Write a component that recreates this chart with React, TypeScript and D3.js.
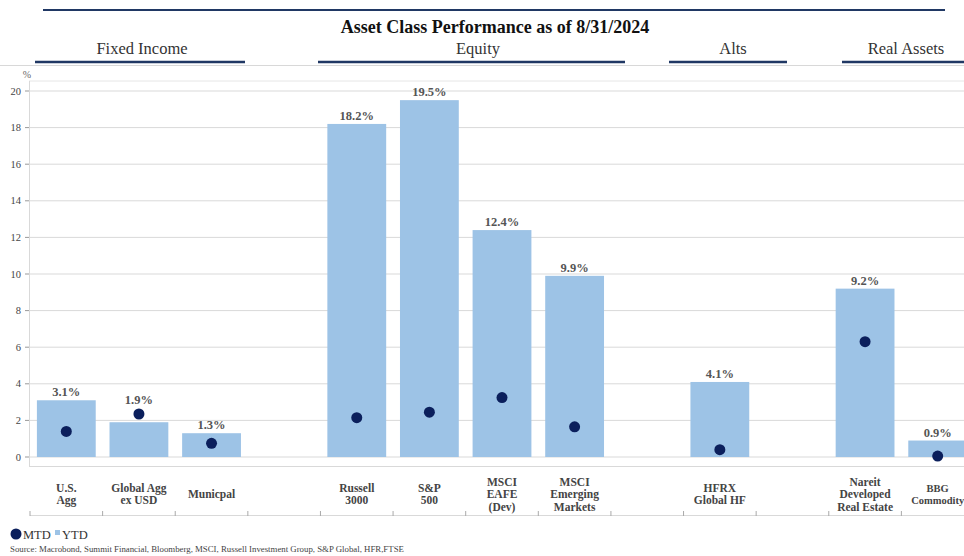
import React from "react";
import * as d3 from "d3";

const slots = ["usagg", "globalagg", "muni", "gap1", "r3000", "sp500", "eafe", "em", "gap2", "hfrx", "gap3", "nareit", "bbg"];
const labels: string[][] = [["U.S.", "Agg"], ["Global Agg", "ex USD"], ["Municpal"], [], ["Russell", "3000"], ["S&P", "500"], ["MSCI", "EAFE", "(Dev)"], ["MSCI", "Emerging", "Markets"], [], ["HFRX", "Global HF"], [], ["Nareit", "Developed", "Real Estate"], ["BBG", "Commodity"]];
const ytd: (number | null)[] = [3.1, 1.9, 1.3, null, 18.2, 19.5, 12.4, 9.9, null, 4.1, null, 9.2, 0.9];
const mtd: (number | null)[] = [1.4, 2.35, 0.75, null, 2.15, 2.45, 3.25, 1.65, null, 0.4, null, 6.3, 0.05];
const yTicks = [0, 2, 4, 6, 8, 10, 12, 14, 16, 18, 20];
const groups = ["Fixed Income", "Equity", "Alts", "Real Assets"];
const title = "Asset Class Performance as of 8/31/2024";
const source = "Source: Macrobond, Summit Financial, Bloomberg, MSCI, Russell Investment Group, S&P Global, HFR,FTSE";

const W = 964, H = 556;
const BAR = "#9DC3E6";
const DOT = "#0B1F5C";
const NAVY = "#203864";
const FONT = "'Liberation Serif', 'DejaVu Serif', serif";

const groupLayout: Record<string, { cx: number; a: number; b: number }> = {
  "Fixed Income": { cx: 142, a: 35, b: 245 },
  Equity: { cx: 478, a: 318, b: 625 },
  Alts: { cx: 733, a: 669, b: 787 },
  "Real Assets": { cx: 906, a: 842, b: 970 },
};

export default function App() {
  const x = d3.scaleBand<string>().domain(slots).range([30, 974]).paddingInner(0.19).paddingOuter(0.095);
  const step = x.step();
  const y = d3.scaleLinear().domain([0, 20]).range([457, 91]);
  const slotLeft = (i: number) => 30 + i * step;
  return (
    <svg width={W} height={H} style={{ position: "absolute", left: 0, top: 0, background: "#fff" }} fontFamily={FONT}>
      <line x1={43} x2={945} y1={10} y2={10} stroke={NAVY} strokeWidth={2} />
      <text x={495} y={33} textAnchor="middle" fontWeight="bold" fontSize={18} fill="#111">{title}</text>
      {groups.map((g) => {
        const L = groupLayout[g];
        return (
          <g key={g}>
            <text x={L.cx} y={54} textAnchor="middle" fontSize={16.5} fill="#333">{g}</text>
            <line x1={L.a} x2={L.b} y1={62} y2={62} stroke={NAVY} strokeWidth={2.5} />
          </g>
        );
      })}
      <line x1={0} x2={W} y1={65.5} y2={65.5} stroke="#d8d8d8" strokeWidth={1} />
      <line x1={29} x2={W} y1={81} y2={81} stroke="#e6e6e6" strokeWidth={1} />
      <line x1={29.5} x2={29.5} y1={81} y2={466} stroke="#d9d9d9" />
      <line x1={29} x2={W} y1={466.5} y2={466.5} stroke="#d9d9d9" />
      {yTicks.map((t) => (
        <g key={t}>
          <line x1={30} x2={W} y1={y(t)} y2={y(t)} stroke="#d9d9d9" strokeWidth={1} />
          <line x1={25} x2={29} y1={y(t)} y2={y(t)} stroke="#999" />
          <text x={21} y={y(t) + 3.5} textAnchor="end" fontSize={10.5} fill="#444">{t}</text>
        </g>
      ))}
      <text x={27} y={78} textAnchor="middle" fontSize={10} fill="#666">%</text>
      {slots.map((s, i) => {
        const v = ytd[i];
        if (v == null) return null;
        const bx = x(s)!;
        return <rect key={s} x={bx} y={y(v)} width={x.bandwidth()} height={y(0) - y(v)} fill={BAR} />;
      })}
      {slots.map((s, i) => {
        const v = mtd[i];
        if (v == null) return null;
        const cx = x(s)! + x.bandwidth() / 2;
        return <circle key={s} cx={cx} cy={y(v)} r={5.5} fill={DOT} />;
      })}
      {slots.map((s, i) => {
        const v = ytd[i];
        if (v == null) return null;
        const cx = x(s)! + x.bandwidth() / 2;
        const m = mtd[i];
        const top = Math.min(y(v), m != null ? y(m) - 6 : y(v));
        return (
          <text key={s} x={cx} y={top - 4} textAnchor="middle" fontSize={12.5} fontWeight="bold" fill="#555">{v.toFixed(1)}%</text>
        );
      })}
      <line x1={30} x2={W} y1={515.5} y2={515.5} stroke="#d9d9d9" />
      {d3.range(slots.length + 1).map((i) => (
        <line key={i} x1={slotLeft(i)} x2={slotLeft(i)} y1={511} y2={516} stroke="#aaa" />
      ))}
      {slots.map((s, i) => {
        const ls = labels[i];
        if (!ls.length) return null;
        const cx = x(s)! + x.bandwidth() / 2;
        const lh = 12.5;
        const y0 = 494 - ((ls.length - 1) * lh) / 2;
        const fs = s === "bbg" ? 10.5 : 11.5;
        return (
          <text key={s} textAnchor="middle" fontSize={fs} fontWeight="bold" fill="#444">
            {ls.map((l, k) => (
              <tspan key={k} x={cx} y={y0 + k * lh + 4}>{l}</tspan>
            ))}
          </text>
        );
      })}
      <circle cx={16} cy={534} r={5.5} fill={DOT} />
      <text x={23} y={538.5} fontSize={12.5} fill="#333">MTD</text>
      <rect x={55} y={530} width={5} height={5} fill={BAR} />
      <text x={62} y={538.5} fontSize={12.5} fill="#333">YTD</text>
      <text x={10} y={552} fontSize={8.8} fill="#444">{source}</text>
    </svg>
  );
}
